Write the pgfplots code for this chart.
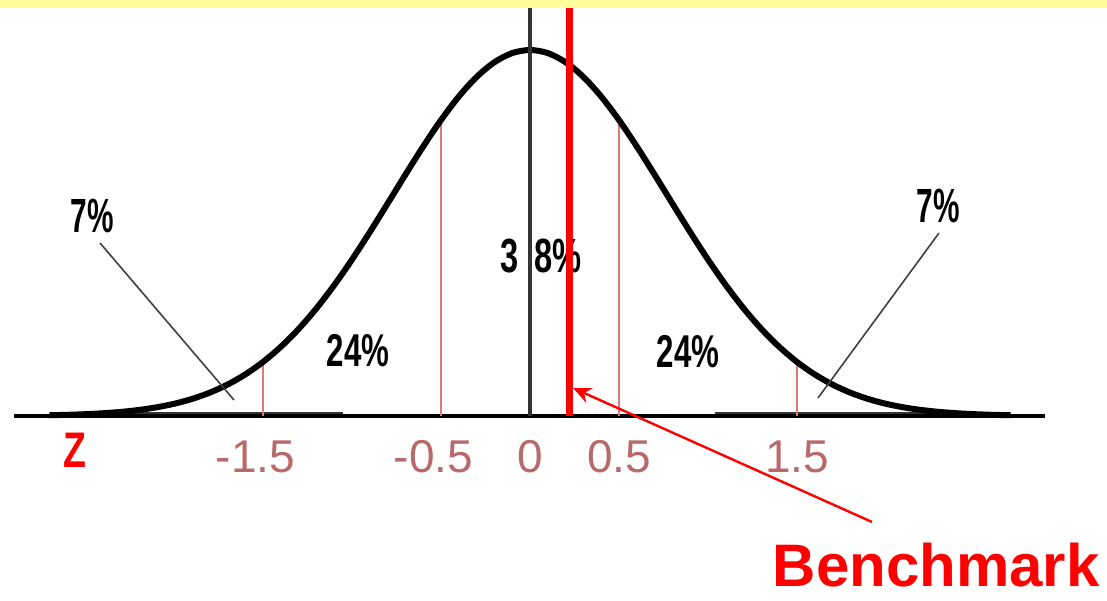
\documentclass[border=0pt]{standalone}
\usepackage{fontspec}
\setmainfont{Liberation Sans}
\usepackage{pgfplots}
\pgfplotsset{compat=1.18}
\usetikzlibrary{arrows.meta}
\definecolor{bandyellow}{HTML}{FFFF99}
\definecolor{tickred}{HTML}{B86A6A}
\definecolor{zonered}{HTML}{E07878}
\definecolor{axisgray}{HTML}{333333}

% 1 px of the 1107x600 picture = 0.5pt; x in z units (0 at px 530, 178 px per unit),
% y relative to the peak height (baseline px 416, peak px 50)
\begin{document}
\begin{tikzpicture}
\begin{axis}[
  scale only axis,
  width=553.5pt, height=300pt,
  xmin=-2.97753, xmax=3.24157,
  ymin=-0.50273, ymax=1.13661,
  axis x line=middle, axis y line=none,
  axis line style={draw=none},
  xtick={-1.5,-0.5,0,0.5,1.5},
  xticklabels={\llap{-}1.5,\llap{-}0.5,0,0.5,1.5},
  major tick length=0pt,
  xticklabel style={font=\fontsize{23}{23}\selectfont, text=tickred,
    anchor=north, inner sep=0pt, yshift=-12pt},
  clip=false,
]
% yellow band along the top
\addplot[fill=bandyellow, draw=none] coordinates
  {(-2.97753,1.1148) (3.24157,1.1148) (3.24157,1.13661) (-2.97753,1.13661)} -- cycle;

% thick tails along the baseline
\addplot[black!80, line width=2.2pt] coordinates {(-2.657,0.0060) (-1.051,0.0060)};
\addplot[black!80, line width=2.2pt] coordinates {(1.039,0.0060) (2.640,0.0060)};
% baseline
\addplot[black, line width=2.2pt] coordinates {(-2.8989,0) (2.8933,0)};

% zone boundaries at z = -1.5, -0.5, 0.5, 1.5
\addplot[zonered, line width=1pt] coordinates {(-1.5,0) (-1.5,0.14767)};
\addplot[zonered, line width=1pt] coordinates {(-0.5,0) (-0.5,0.80855)};
\addplot[zonered, line width=1pt] coordinates {(0.5,0) (0.5,0.80855)};
\addplot[zonered, line width=1pt] coordinates {(1.5,0) (1.5,0.14767)};

% bell curve
\addplot[black, line width=3pt, smooth] coordinates {
  (-2.7,0.00203) (-2.6,0.00319) (-2.5,0.00493) (-2.4,0.00747) (-2.3,0.01114)
  (-2.2,0.01633) (-2.1,0.02354) (-2.0,0.03335) (-1.9,0.04647) (-1.8,0.06364)
  (-1.7,0.08570) (-1.6,0.11345) (-1.5,0.14767) (-1.4,0.18895) (-1.3,0.23770)
  (-1.2,0.29399) (-1.1,0.35748) (-1.0,0.42736) (-0.9,0.50227) (-0.8,0.58037)
  (-0.7,0.65931) (-0.6,0.73635) (-0.5,0.80855) (-0.4,0.87282) (-0.3,0.92634)
  (-0.2,0.96657) (-0.1,0.99153) (0,1) (0.1,0.99153) (0.2,0.96657)
  (0.3,0.92634) (0.4,0.87282) (0.5,0.80855) (0.6,0.73635) (0.7,0.65931)
  (0.8,0.58037) (0.9,0.50227) (1.0,0.42736) (1.1,0.35748) (1.2,0.29399)
  (1.3,0.23770) (1.4,0.18895) (1.5,0.14767) (1.6,0.11345) (1.7,0.08570)
  (1.8,0.06364) (1.9,0.04647) (2.0,0.03335) (2.1,0.02354) (2.2,0.01633)
  (2.3,0.01114) (2.4,0.00747) (2.5,0.00493) (2.6,0.00319) (2.7,0.00203)
};

% percentage labels
\node[font=\bfseries\fontsize{24}{24}\selectfont, xscale=0.62, inner sep=0pt]
  at (axis cs:-2.4607,0.5464) {7\%};
\node[font=\bfseries\fontsize{23}{23}\selectfont, xscale=0.68, inner sep=0pt]
  at (axis cs:-0.9663,0.1776) {24\%};
\node[font=\bfseries\fontsize{24}{24}\selectfont, xscale=0.68, inner sep=0pt, anchor=west]
  at (axis cs:-0.1685,0.4372) {3\hspace{12pt}8\%};
\node[font=\bfseries\fontsize{23}{23}\selectfont, xscale=0.68, inner sep=0pt]
  at (axis cs:0.8876,0.1749) {24\%};
\node[font=\bfseries\fontsize{24}{24}\selectfont, xscale=0.62, inner sep=0pt]
  at (axis cs:2.2921,0.5738) {7\%};

% leader lines to the tails
\draw[black!75, line width=0.8pt] (axis cs:-2.4157,0.4727) -- (axis cs:-1.6629,0.0437);
\draw[black!75, line width=0.8pt] (axis cs:2.2978,0.5000) -- (axis cs:1.6180,0.0492);

% mean line
\addplot[axisgray, line width=1.8pt] coordinates {(0,0) (0,1.1148)};
% benchmark
\addplot[red, line width=3.5pt] coordinates {(0.22,0) (0.22,1.1148)};

\draw[red, line width=1.2pt, -{Stealth[length=9pt, width=8pt]}]
  (axis cs:1.9213,-0.2896) -- (axis cs:0.2416,0.0765);

\node[text=red, font=\bfseries\fontsize{25}{25}\selectfont, xscale=0.75, inner sep=0pt]
  at (axis cs:-2.5562,-0.0929) {Z};
\node[text=red, font=\bfseries\fontsize{30}{30}\selectfont, inner sep=0pt, anchor=base east]
  at (axis cs:3.2022,-0.4672) {Benchmark};
\end{axis}
\pgfresetboundingbox
\path[use as bounding box] (current axis.south west) rectangle (current axis.north east);
\end{tikzpicture}
\end{document}
